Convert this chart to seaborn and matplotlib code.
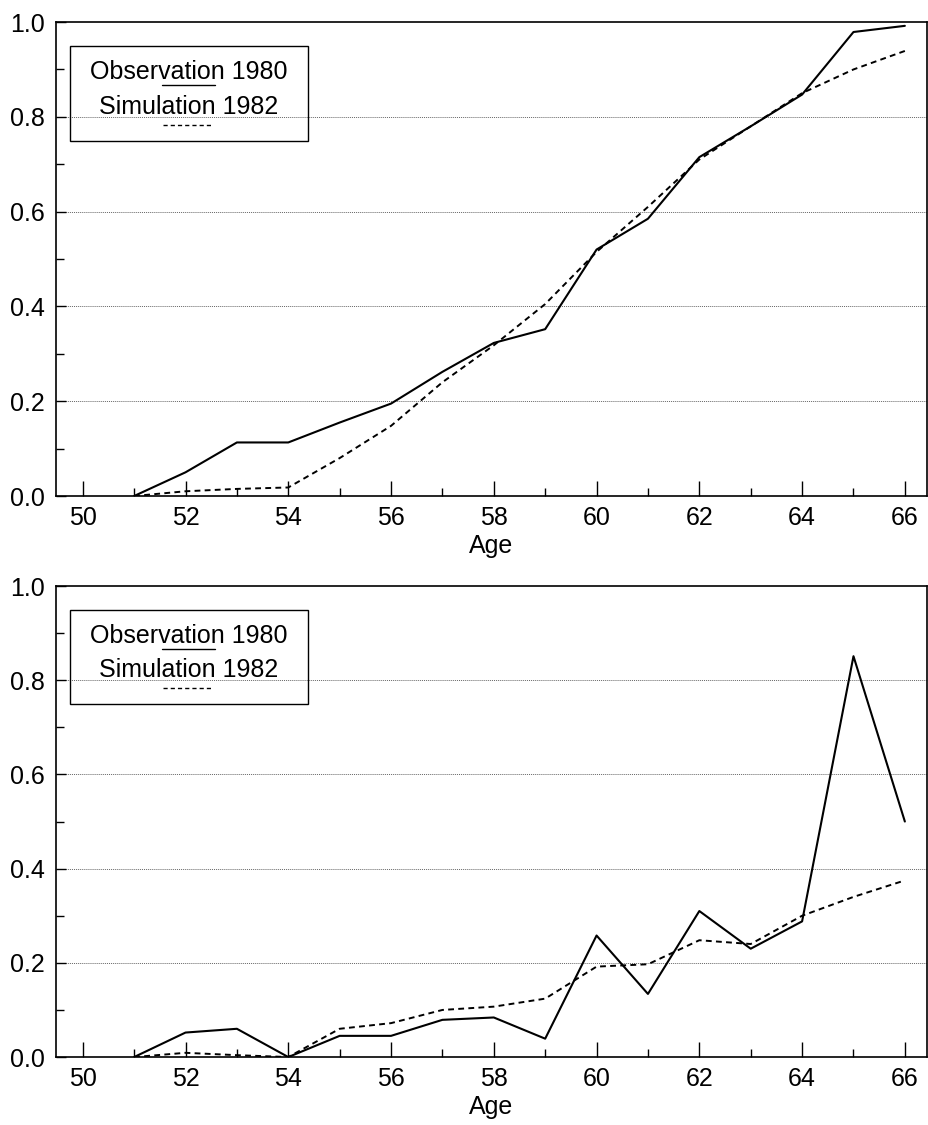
import numpy as np
import pandas as pd
import matplotlib
matplotlib.use("Agg")
import matplotlib.pyplot as plt
from matplotlib.ticker import MultipleLocator, FormatStrFormatter
from matplotlib.patches import Rectangle
from matplotlib.lines import Line2D
import seaborn as sns

ages = list(range(51, 67))

obs_top = [0.0, 0.05, 0.113, 0.113, 0.155, 0.195, 0.262, 0.323, 0.352, 0.52,
           0.585, 0.715, 0.78, 0.847, 0.979, 0.992]
sim_top = [0.0, 0.01, 0.015, 0.018, 0.08, 0.148, 0.24, 0.318, 0.405, 0.515,
           0.61, 0.71, 0.78, 0.85, 0.9, 0.939]

obs_bot = [0.0, 0.052, 0.06, 0.0, 0.045, 0.045, 0.079, 0.084, 0.039, 0.258,
           0.134, 0.31, 0.23, 0.288, 0.851, 0.5]
sim_bot = [0.0, 0.009, 0.004, 0.0, 0.06, 0.072, 0.1, 0.107, 0.124, 0.192,
           0.197, 0.248, 0.24, 0.3, 0.34, 0.375]

legend_line1 = "Observation 1980"
legend_line2 = "Simulation 1982"
x_label = "Age"

sns.set_theme(style="white")
plt.rcParams['font.family'] = ['Liberation Sans', 'DejaVu Sans']
plt.rcParams['text.color'] = 'black'
plt.rcParams['axes.labelcolor'] = 'black'
plt.rcParams['xtick.color'] = 'black'
plt.rcParams['ytick.color'] = 'black'

FS = 18
fig = plt.figure(figsize=(9.29, 11.25), dpi=100)
ax_top = fig.add_axes([0.0603, 0.5591, 0.9375, 0.4213])
ax_bot = fig.add_axes([0.0603, 0.0604, 0.9375, 0.4187])

DASH = (0, (3.0, 2.2))


def style_axes(ax):
    ax.set_xlim(49.48, 66.43)
    ax.set_ylim(0, 1.0)
    ax.xaxis.set_major_locator(MultipleLocator(2))
    ax.xaxis.set_minor_locator(MultipleLocator(1))
    ax.yaxis.set_major_locator(MultipleLocator(0.2))
    ax.yaxis.set_minor_locator(MultipleLocator(0.1))
    ax.yaxis.set_major_formatter(FormatStrFormatter("%.1f"))
    ax.tick_params(axis="x", which="major", direction="in", length=11, width=1.0,
                   pad=7, labelsize=FS, labelcolor="black", color="black",
                   top=False, bottom=True)
    ax.tick_params(axis="x", which="minor", direction="in", length=6, width=1.0,
                   color="black", top=False, bottom=True)
    ax.tick_params(axis="y", which="major", direction="in", length=7, width=1.0,
                   pad=8, labelsize=FS, labelcolor="black", color="black",
                   left=True, right=False)
    ax.tick_params(axis="y", which="minor", direction="in", length=6, width=1.0,
                   color="black", left=True, right=False)
    for s in ax.spines.values():
        s.set_visible(True)
        s.set_color("black")
        s.set_linewidth(1.2)
    for yv in [0.2, 0.4, 0.6, 0.8]:
        ax.axhline(yv, color="#666666", lw=0.7, ls=(0, (1, 1)), zorder=0.5)
    ax.set_xlabel(x_label, fontsize=FS, labelpad=3, color="black")
    ax.set_ylabel("")
    # custom legend box
    ax.add_patch(Rectangle((0.0161, 0.7492), 0.2732, 0.2002, transform=ax.transAxes,
                           fill=False, edgecolor="black", lw=1.0, zorder=5))
    ax.text(0.1527, 0.8799, legend_line1, transform=ax.transAxes, ha="center",
            va="baseline", fontsize=FS, color="black", zorder=6)
    ax.text(0.1527, 0.8061, legend_line2, transform=ax.transAxes, ha="center",
            va="baseline", fontsize=FS, color="black", zorder=6)
    ax.add_line(Line2D([0.1217, 0.1825], [0.8672, 0.8672], transform=ax.transAxes,
                       color="black", lw=1.0, zorder=6))
    ax.add_line(Line2D([0.1228, 0.1803], [0.7829, 0.7829], transform=ax.transAxes,
                       color="black", lw=1.0, ls=DASH, zorder=6))


for ax, obs, sim in [(ax_top, obs_top, sim_top), (ax_bot, obs_bot, sim_bot)]:
    df = pd.DataFrame({"age": ages, "obs": obs, "sim": sim})
    sns.lineplot(data=df, x="age", y="obs", ax=ax, color="black", lw=1.5,
                 zorder=3, legend=False)
    sns.lineplot(data=df, x="age", y="sim", ax=ax, color="black", lw=1.4,
                 linestyle=DASH, zorder=3, legend=False)
    style_axes(ax)

fig.savefig("out.png", dpi=100)
